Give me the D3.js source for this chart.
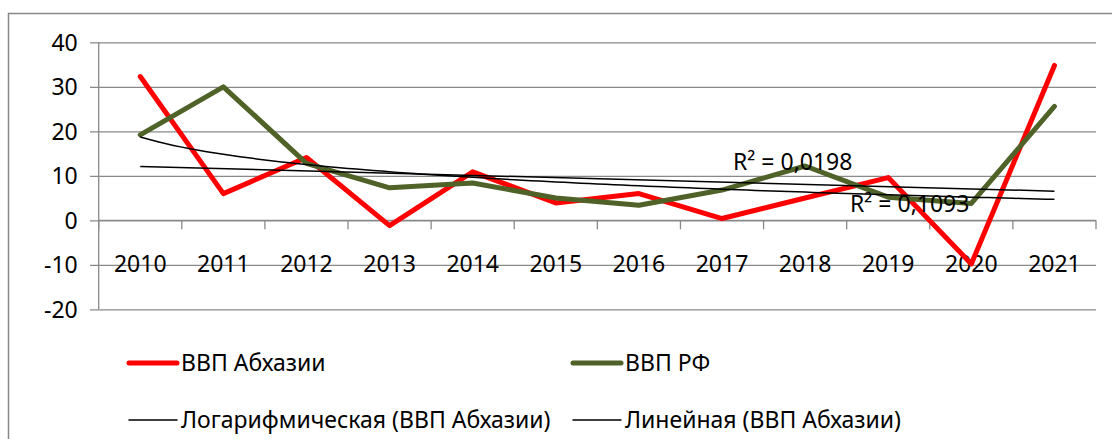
<!DOCTYPE html>
<html>
<head>
<meta charset="utf-8">
<script src="https://cdn.jsdelivr.net/npm/d3@7"></script>
<style>
  html, body { margin: 0; padding: 0; background: #fff; }
  svg { display: block; font-family: "Noto Sans", "Open Sans", sans-serif; }
</style>
</head>
<body>
<div id="chart"></div>
<script>
// data
const years = ['2010', '2011', '2012', '2013', '2014', '2015', '2016', '2017', '2018', '2019', '2020', '2021'];
const gdpAbkhazia = [32.3, 6.0, 14.1, -1.2, 10.9, 3.9, 6.0, 0.4, 5.0, 9.6, -9.8, 34.8];
const gdpRussia = [19.2, 30.0, 12.8, 7.3, 8.4, 5.0, 3.4, 6.8, 12.2, 5.2, 3.8, 25.6];
const yTicks = [-20, -10, 0, 10, 20, 30, 40];
const r2Labels = ['R² = 0,0198', 'R² = 0,1093'];
const legendLabels = ['ВВП Абхазии', 'ВВП РФ', 'Логарифмическая (ВВП Абхазии)', 'Линейная (ВВП Абхазии)'];

const W = 1112, H = 439;
const plot = { left: 98.7, right: 1096, top: 42.3, bottom: 309.3 };
const grey = '#898989';
const red = '#ff0000';
const olive = '#4f6228';

const svg = d3.select('#chart').append('svg')
    .attr('width', W)
    .attr('height', H);

// chart area frame (runs off right and bottom)
svg.append('rect')
    .attr('x', 8.5).attr('y', 13.5)
    .attr('width', W + 10).attr('height', H + 10)
    .attr('fill', 'none')
    .attr('stroke', grey)
    .attr('stroke-width', 1.5);

const x = d3.scaleBand()
    .domain(years)
    .range([plot.left, plot.right])
    .padding(0);
const cx = (d) => x(d) + x.bandwidth() / 2;

const y = d3.scaleLinear()
    .domain([-20, 40])
    .range([plot.bottom, plot.top]);

// gridlines + y axis
const yAxis = d3.axisLeft(y)
    .tickValues(yTicks)
    .tickSize(-(plot.right - plot.left))
    .tickPadding(21)
    .tickFormat((d) => String(d)); // plain hyphen like the original
const yAxisG = svg.append('g')
    .attr('transform', `translate(${plot.left},0)`)
    .call(yAxis);
yAxisG.select('.domain').remove();
yAxisG.selectAll('.tick line')
    .attr('x1', -8.7)
    .attr('stroke', grey)
    .attr('stroke-width', 1.3);
yAxisG.selectAll('.tick text')
    .attr('font-size', 23)
    .attr('fill', '#000')
    .attr('font-family', '"Noto Sans", sans-serif')
    .attr('dy', '0.34em');

// vertical axis line
svg.append('line')
    .attr('x1', plot.left).attr('x2', plot.left)
    .attr('y1', plot.top).attr('y2', plot.bottom)
    .attr('stroke', grey)
    .attr('stroke-width', 1.3);

// category axis crossing at 0
const xAxisG = svg.append('g')
    .attr('transform', `translate(0,${y(0)})`);
xAxisG.append('line')
    .attr('x1', plot.left).attr('x2', plot.right)
    .attr('stroke', grey)
    .attr('stroke-width', 1.3);
const bounds = years.map((d) => x(d)).concat([plot.right]);
xAxisG.selectAll('.xtick')
    .data(bounds)
    .join('line')
    .attr('class', 'xtick')
    .attr('x1', (d) => d).attr('x2', (d) => d)
    .attr('y1', 0).attr('y2', 9)
    .attr('stroke', grey)
    .attr('stroke-width', 1.3);
xAxisG.selectAll('.xlabel')
    .data(years)
    .join('text')
    .attr('class', 'xlabel')
    .attr('x', (d) => cx(d))
    .attr('y', 51.5)
    .attr('text-anchor', 'middle')
    .attr('font-size', 23)
    .attr('fill', '#000')
    .text((d) => d);

// series
const line = d3.line()
    .x((d, i) => cx(years[i]))
    .y((d) => y(d));

svg.append('path')
    .datum(gdpAbkhazia)
    .attr('d', line)
    .attr('fill', 'none')
    .attr('stroke', red)
    .attr('stroke-width', 5)
    .attr('stroke-linejoin', 'round')
    .attr('stroke-linecap', 'round');

svg.append('path')
    .datum(gdpRussia)
    .attr('d', line)
    .attr('fill', 'none')
    .attr('stroke', olive)
    .attr('stroke-width', 5)
    .attr('stroke-linejoin', 'round')
    .attr('stroke-linecap', 'round');

// trendlines for ВВП Абхазии, least squares like Excel
const fit = (xs, ys) => {
    const mx = d3.mean(xs), my = d3.mean(ys);
    let sxy = 0, sxx = 0;
    xs.forEach((v, i) => {
        sxy += (v - mx) * (ys[i] - my);
        sxx += (v - mx) * (v - mx);
    });
    const slope = sxy / sxx;
    return { slope, intercept: my - slope * mx };
};
const idx = years.map((d, i) => i + 1);
const lin = fit(idx, gdpAbkhazia);
const logFit = fit(idx.map(Math.log), gdpAbkhazia);

// position along category axis for a fractional index (1..12)
const xAt = d3.scaleLinear().domain([1, years.length]).range([cx(years[0]), cx(years[years.length - 1])]);

const steps = d3.range(1, years.length + 0.001, 0.1);
svg.append('path')
    .datum(steps)
    .attr('d', d3.line()
        .x((t) => xAt(t))
        .y((t) => y(logFit.intercept + logFit.slope * Math.log(t))))
    .attr('fill', 'none')
    .attr('stroke', '#000')
    .attr('stroke-width', 1.5);

svg.append('path')
    .datum([1, years.length])
    .attr('d', d3.line()
        .x((t) => xAt(t))
        .y((t) => y(lin.intercept + lin.slope * t)))
    .attr('fill', 'none')
    .attr('stroke', '#000')
    .attr('stroke-width', 1.5);

// R² labels
const r2Pos = [[733, 170], [850, 212]];
svg.selectAll('.r2')
    .data(r2Labels)
    .join('text')
    .attr('class', 'r2')
    .attr('x', (d, i) => r2Pos[i][0])
    .attr('y', (d, i) => r2Pos[i][1])
    .attr('font-size', 23)
    .attr('fill', '#000')
    .text((d) => d);

// legend
const legendItems = [
    { label: legendLabels[0], color: red, width: 5, col: 0, row: 0 },
    { label: legendLabels[1], color: olive, width: 5, col: 1, row: 0 },
    { label: legendLabels[2], color: '#000', width: 1.5, col: 0, row: 1 },
    { label: legendLabels[3], color: '#000', width: 1.5, col: 1, row: 1 },
];
const legCols = [128, 572];
const legRows = [363, 420];
const legend = svg.append('g');
const li = legend.selectAll('g')
    .data(legendItems)
    .join('g')
    .attr('transform', (d) => `translate(${legCols[d.col]},${legRows[d.row]})`);
li.append('line')
    .attr('x1', 1).attr('x2', 49)
    .attr('stroke', (d) => d.color)
    .attr('stroke-width', (d) => d.width)
    .attr('stroke-linecap', 'round');
li.append('text')
    .attr('x', 53)
    .attr('dy', '0.35em')
    .attr('font-size', 23)
    .attr('fill', '#000')
    .text((d) => d.label);
</script>
</body>
</html>
